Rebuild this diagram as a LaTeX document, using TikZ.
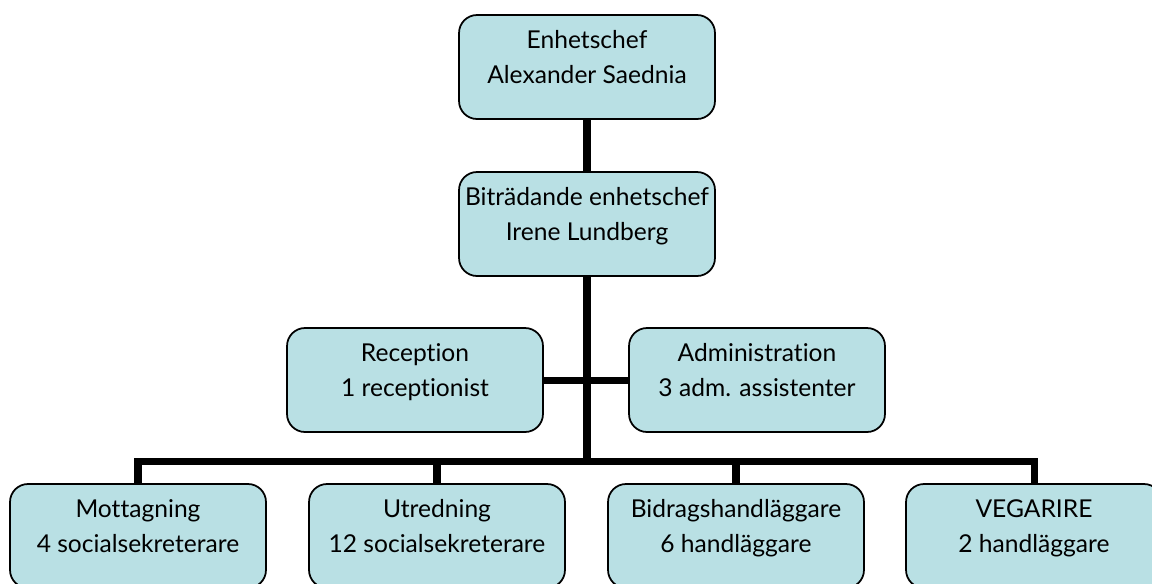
\documentclass[tikz,border=0pt]{standalone}
\usepackage{fontspec}
\setmainfont{Lato}[Ligatures={NoCommon,NoContextual}]
\definecolor{boxblue}{RGB}{185,224,228}
\begin{document}
\begin{tikzpicture}[x=0.02cm,y=-0.02cm,
  box/.style={rectangle,draw,fill=boxblue,line width=1pt,rounded corners=0.36cm,
    minimum width=5.12cm,minimum height=2.08cm,align=center,inner sep=0pt,
    font=\fontsize{14}{20}\selectfont,execute at end node={\rule[-11pt]{0pt}{11pt}}},
  conn/.style={line width=4pt}]
\useasboundingbox (0,0) rectangle (1152,583);
\clip (0,0) rectangle (1152,583);
\node (chef) [box] at (587,67) {Enhetschef\\Alexander Saednia};
\node (bitr) [box] at (587,224) {Biträdande enhetschef\\Irene Lundberg};
\node (rec) [box] at (415,380) {Reception\\1 receptionist};
\node (adm) [box] at (757,380) {Administration\\3 adm. assistenter};
\node (mott) [box] at (138,536) {Mottagning\\4 socialsekreterare};
\node (utr) [box] at (437,536) {Utredning\\12 socialsekreterare};
\node (bidr) [box] at (736,536) {Bidragshandläggare\\6 handläggare};
\node (veg) [box] at (1034,536) {VEGARIRE\\2 handläggare};
\coordinate (bus) at (587,461);
\draw[conn] (chef) -- (bitr);
\draw[conn] (bitr) -- (bus);
\draw[conn] (rec.east) -- (rec.east -| bus);
\draw[conn] (adm.west) -- (adm.west -| bus);
\draw[conn] (mott) |- (bus);
\draw[conn] (utr) |- (bus);
\draw[conn] (bidr) |- (bus);
\draw[conn] (veg) |- (bus);
\end{tikzpicture}
\end{document}
